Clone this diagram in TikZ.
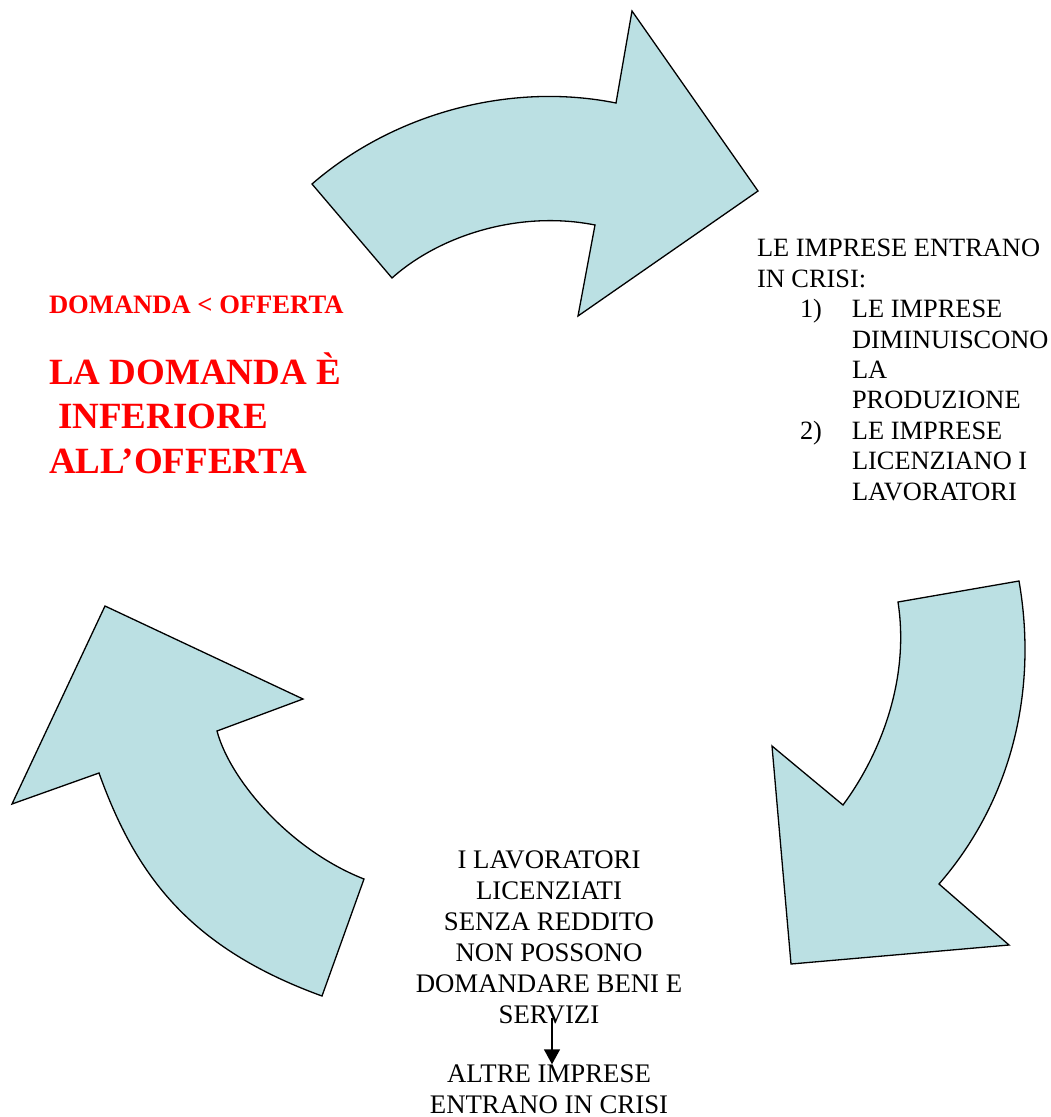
\documentclass[tikz,border=0pt]{standalone}
\usepackage{fontspec}
\setmainfont{Liberation Serif}
\usetikzlibrary{arrows.meta}
\definecolor{arrowfill}{RGB}{187,224,227}
\definecolor{pptred}{RGB}{255,0,0}
\begin{document}
\begin{tikzpicture}[x=1pt,y=-1pt,
  bigarrow/.style={draw=black,fill=arrowfill,line width=1.3pt,line join=miter},
  txt/.style={inner sep=0pt,outer sep=0pt,font=\fontsize{26.4}{30.4}\selectfont,align=left},
  ctxt/.style={inner sep=0pt,outer sep=0pt,font=\fontsize{26.8}{31}\selectfont,align=center},
  redsmall/.style={inner sep=0pt,outer sep=0pt,text=pptred,font=\fontsize{26.6}{30.7}\selectfont\bfseries},
  redbig/.style={inner sep=0pt,outer sep=0pt,text=pptred,align=left,font=\fontsize{37}{44.5}\selectfont\bfseries},
  smallarrow/.style={line width=1.6pt,-{Triangle[width=16pt,length=15pt]}}]
\useasboundingbox (0,0) rectangle (1051,1117);
% top arrow
\draw[bigarrow] (312,184) .. controls (395,112) and (512,82) .. (616,103) -- (632,11) -- (758,191) -- (578,316) -- (595,225) .. controls (520,210) and (440,235) .. (392,278) -- cycle;
% right arrow
\draw[bigarrow] (898,602) -- (1019,581) .. controls (1038,690) and (1012,800) .. (939,884) -- (1009,945) -- (791,964) -- (772,746) -- (843,805) .. controls (880,755) and (910,680) .. (898,602) -- cycle;
% left arrow
\draw[bigarrow] (105,606) -- (303,699) -- (217,731) .. controls (230,780) and (290,850) .. (364,879) -- (322,996) .. controls (190,948) and (136,876) .. (99,773) -- (12,804) -- cycle;
% texts (base anchor = baseline of the last line)
\node[txt,anchor=base west] (crisi) at (757,500) {LE IMPRESE ENTRANO\\IN CRISI:\\
\hspace*{43pt}\makebox[52pt][l]{1)}LE IMPRESE\\
\hspace*{95pt}DIMINUISCONO\\
\hspace*{95pt}LA\\
\hspace*{95pt}PRODUZIONE\\
\hspace*{43pt}\makebox[52pt][l]{2)}LE IMPRESE\\
\hspace*{95pt}LICENZIANO I\\
\hspace*{95pt}LAVORATORI};
\node[redsmall,anchor=base west] (dom) at (49,313) {DOMANDA < OFFERTA};
\node[redbig,anchor=base west] (inf) at (49,473) {LA DOMANDA È\\\hspace*{9pt}INFERIORE\\ALL’OFFERTA};
\node[ctxt,anchor=base] (lav) at (549,1023) {I LAVORATORI\\LICENZIATI\\SENZA REDDITO\\NON POSSONO\\DOMANDARE BENI E\\SERVIZI};
\node[ctxt,anchor=base] (altre) at (549,1113) {ALTRE IMPRESE\\ENTRANO IN CRISI};
\coordinate (a1) at (552,1018);
\draw[smallarrow] (a1) -- (a1 |- altre.north);
\end{tikzpicture}
\end{document}
